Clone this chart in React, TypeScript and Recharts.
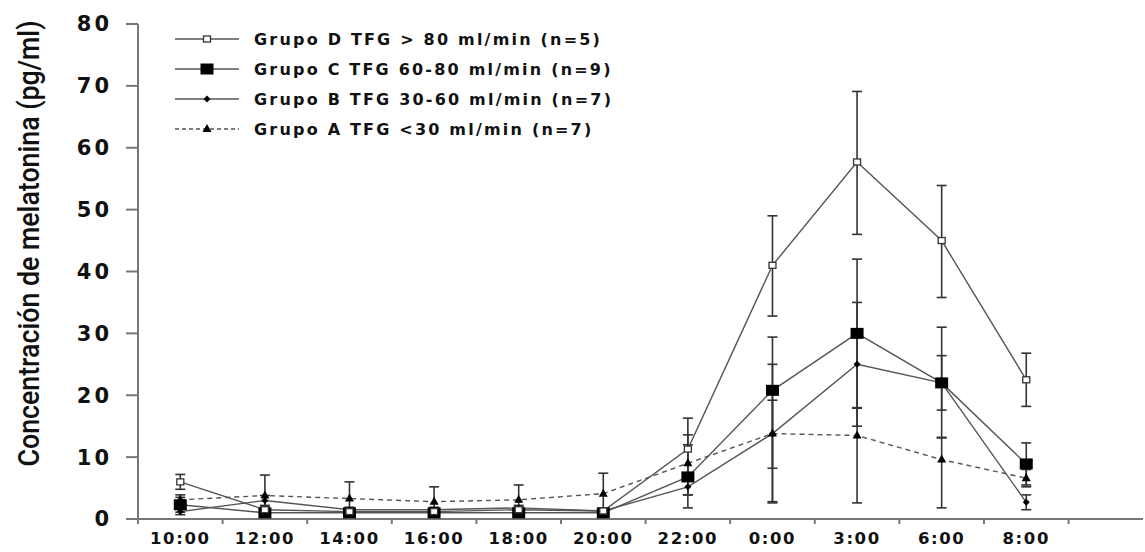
import { LineChart, Line, XAxis, YAxis, ErrorBar } from 'recharts';

const times = ['10:00', '12:00', '14:00', '16:00', '18:00', '20:00', '22:00', '0:00', '3:00', '6:00', '8:00'];
const yTicks = [0, 10, 20, 30, 40, 50, 60, 70, 80];

// Grupo D TFG > 80 ml/min (n=5)
const grupoD = [6, 1.5, 1.2, 1.2, 1.5, 1.3, 11.3, 41, 57.7, 45, 22.5];
const grupoDErr = [[1.2, 1.2], [0.5, 0.5], [0.4, 0.4], [0.4, 0.4], [0.5, 0.5], [0.4, 0.4], [5, 5], [8.2, 8], [11.7, 11.4], [9.2, 8.9], [4.3, 4.3]];
// Grupo C TFG 60-80 ml/min (n=9)
const grupoC = [2.3, 1.0, 1.0, 1.0, 1.0, 1.0, 6.8, 20.8, 30, 22, 8.9];
const grupoCErr = [[1.2, 1.2], [0.5, 0.5], [0.4, 0.4], [0.4, 0.4], [0.4, 0.4], [0.4, 0.4], [5, 5.2], [18.2, 8.6], [12, 12], [8.9, 9], [3.4, 3.4]];
// Grupo B TFG 30-60 ml/min (n=7)
const grupoB = [1.2, 3.0, 1.5, 1.5, 1.8, 1.3, 5.2, 13.8, 25, 22, 2.7];
const grupoBErr = [[0.5, 0.6], [0.8, 0.8], [0.4, 0.4], [0.4, 0.4], [0.4, 0.4], [0.4, 0.4], [1.3, 1.5], [5.6, 11.2], [10, 10], [4.4, 4.4], [1.2, 1.2]];
// Grupo A TFG <30 ml/min (n=7)
const grupoA = [3.1, 3.8, 3.3, 2.8, 3.1, 4.1, 9.0, 13.8, 13.5, 9.6, 6.6];
const grupoAErr = [[0.8, 0.8], [3.3, 3.3], [2.7, 2.7], [2.4, 2.4], [2.4, 2.4], [3.3, 3.3], [5.1, 4.6], [11, 5.4], [10.9, 4.4], [7.8, 3.6], [1.4, 1.4]];

const legendItems = [
  { key: 'd', label: 'Grupo D TFG > 80 ml/min (n=5)', dashed: false },
  { key: 'c', label: 'Grupo C TFG 60-80 ml/min (n=9)', dashed: false },
  { key: 'b', label: 'Grupo B TFG 30-60 ml/min (n=7)', dashed: false },
  { key: 'a', label: 'Grupo A TFG <30 ml/min (n=7)', dashed: true },
];

const data = times.map((t, i) => ({
  x: i + 0.5,
  t,
  d: grupoD[i], dErr: grupoDErr[i],
  c: grupoC[i], cErr: grupoCErr[i],
  b: grupoB[i], bErr: grupoBErr[i],
  a: grupoA[i], aErr: grupoAErr[i],
}));

const W = 1145;
const H = 552;
const LEFT = 138;
const RIGHT = 2;
const X_MAX = 11.88;
const HALF_BAND = (W - LEFT - RIGHT) / X_MAX / 2;
const LINE = '#555';
const INK = '#111';
const FONT = '"DejaVu Sans", Verdana, sans-serif';

function marker(kind: string, cx: number, cy: number, key?: string) {
  if (kind === 'd') return <rect key={key} x={cx - 3.5} y={cy - 3} width={7} height={6} fill="#fff" stroke="#333" strokeWidth={1.3} />;
  if (kind === 'c') return <rect key={key} x={cx - 6.5} y={cy - 5.5} width={13} height={11} fill="#000" />;
  if (kind === 'b') return <path key={key} d={`M${cx},${cy - 3.5} L${cx + 3.5},${cy} L${cx},${cy + 3.5} L${cx - 3.5},${cy} Z`} fill="#000" />;
  return <path key={key} d={`M${cx},${cy - 5} L${cx + 4.5},${cy + 3} L${cx - 4.5},${cy + 3} Z`} fill="#000" />;
}

const dotFor = (kind: string) => (p: any) => marker(kind, p.cx, p.cy, `${kind}-${p.index}`);

function XTick({ x, y, payload }: any) {
  const label = times[payload.value] ?? '';
  return (
    <text x={x + HALF_BAND} y={y + 18} textAnchor="middle" fontFamily={FONT} fontWeight="bold" fontSize={16.5} letterSpacing={1.6} fill={INK}>
      {label}
    </text>
  );
}

// rótulo del eje Y: fuente estrecha, se comprime a lo largo del texto
function YLabel({ viewBox }: any) {
  const cx = 29;
  const cy = viewBox.y + viewBox.height / 2 - 28;
  const sx = 0.85;
  return (
    <text x={0} y={0} transform={`translate(${cx} ${cy}) rotate(-90) scale(${sx} 1)`} textAnchor="middle" dominantBaseline="central"
      fontFamily="Roboto, sans-serif" fontWeight={500} fontSize={30} fill={INK} textLength={446 / sx} lengthAdjust="spacingAndGlyphs">
      Concentración de melatonina (pg/ml)
    </text>
  );
}

export default function App() {
  return (
    <div style={{ position: 'fixed', left: 0, top: 0, width: W, height: H, background: '#fff' }}>
      <LineChart width={W} height={H} data={data} margin={{ top: 24, right: RIGHT, bottom: 0, left: 0 }}>
        <XAxis type="number" dataKey="x" domain={[0, X_MAX]} ticks={[0, 1, 2, 3, 4, 5, 6, 7, 8, 9, 10, 11]}
          tick={<XTick />} tickSize={5} height={33} stroke="#777" strokeWidth={2} allowDataOverflow />
        <YAxis type="number" domain={[0, 80]} ticks={yTicks} width={LEFT} tickSize={12} tickMargin={14}
          stroke="#777" strokeWidth={2} allowDataOverflow
          tick={{ fontFamily: FONT, fontWeight: 'bold', fontSize: 21, fill: INK, letterSpacing: 3 }}
          label={{ content: YLabel }} />
        <Line dataKey="a" stroke={LINE} strokeWidth={1.4} strokeDasharray="5 4" dot={dotFor('a')} activeDot={false} isAnimationActive={false}>
          <ErrorBar dataKey="aErr" direction="y" width={5} stroke="#333" strokeWidth={1.6} />
        </Line>
        <Line dataKey="b" stroke={LINE} strokeWidth={1.4} dot={dotFor('b')} activeDot={false} isAnimationActive={false}>
          <ErrorBar dataKey="bErr" direction="y" width={5} stroke="#333" strokeWidth={1.6} />
        </Line>
        <Line dataKey="c" stroke={LINE} strokeWidth={1.4} dot={dotFor('c')} activeDot={false} isAnimationActive={false}>
          <ErrorBar dataKey="cErr" direction="y" width={5} stroke="#333" strokeWidth={1.6} />
        </Line>
        <Line dataKey="d" stroke={LINE} strokeWidth={1.4} dot={dotFor('d')} activeDot={false} isAnimationActive={false}>
          <ErrorBar dataKey="dErr" direction="y" width={5} stroke="#333" strokeWidth={1.6} />
        </Line>
      </LineChart>

      {/* leyenda */}
      <div style={{ position: 'absolute', left: 175, top: 24 }}>
        {legendItems.map((it) => (
          <div key={it.key} style={{ display: 'flex', alignItems: 'center', height: 30 }}>
            <svg width={64} height={14} style={{ marginRight: 15 }}>
              <line x1={0} x2={64} y1={7} y2={7} stroke={LINE} strokeWidth={1.4} strokeDasharray={it.dashed ? '4 3' : undefined} />
              {marker(it.key, 32, 7)}
            </svg>
            <span style={{ fontFamily: FONT, fontWeight: 'bold', fontSize: 16, letterSpacing: 2.2, color: INK }}>{it.label}</span>
          </div>
        ))}
      </div>
    </div>
  );
}
